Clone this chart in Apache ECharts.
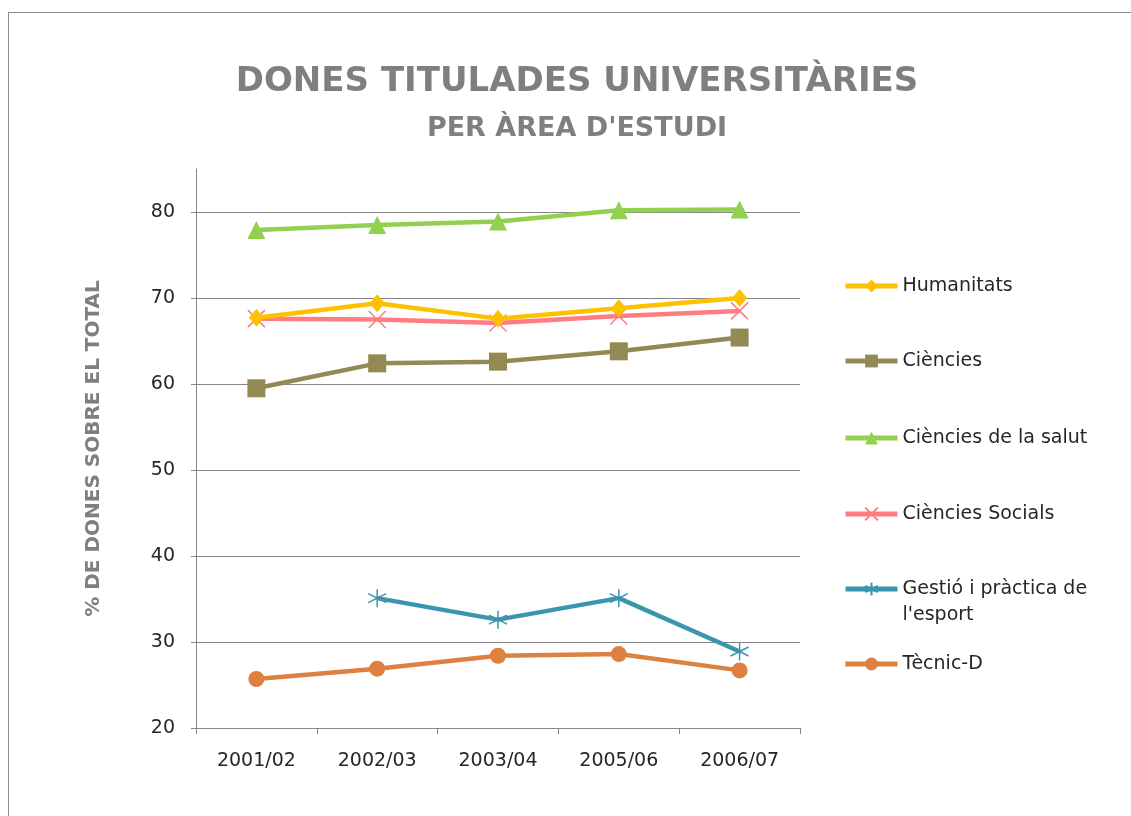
<!DOCTYPE html>
<html>
<head>
<meta charset="utf-8">
<title>Dones titulades universitàries</title>
<script src="https://cdn.jsdelivr.net/npm/echarts@6/dist/echarts.min.js"></script>
<style>
    html, body { margin: 0; padding: 0; background: #fff; overflow: hidden; }
    #frame { position: absolute; left: 8px; top: 12px; width: 1200px; height: 900px; border: 1px solid #8c8c8c; }
    #main { position: absolute; left: 0; top: 0; width: 1131px; height: 816px; }
</style>
</head>
<body>
<div id="frame"></div>
<div id="main"></div>
<script type="text/javascript">
    // dades llegides del gràfic
    var cursos = ['2001/02', '2002/03', '2003/04', '2005/06', '2006/07'];
    var humanitats = [67.7, 69.4, 67.6, 68.8, 70.0];
    var ciencies = [59.5, 62.4, 62.6, 63.8, 65.4];
    var salut = [77.9, 78.5, 78.9, 80.2, 80.3];
    var socials = [67.6, 67.5, 67.1, 67.9, 68.5];
    var esport = [null, 35.1, 32.6, 35.1, 28.9];
    var tecnic = [25.7, 26.9, 28.4, 28.6, 26.7];
    var yTicks = [20, 30, 40, 50, 60, 70, 80];

    var nomsSeries = ['Humanitats', 'Ciències', 'Ciències de la salut', 'Ciències Socials',
        'Gestió i pràctica de l\'esport', 'Tècnic-D'];
    var colors = ['#FFC000', '#938953', '#92D050', '#FF7C80', '#3C95AE', '#DD8040'];

    var FONT = '"DejaVu Sans", sans-serif';
    var symX = 'path://M0,0 L10,10 M10,0 L0,10';
    var symStar = 'path://M5,0 L5,10 M0.7,2.5 L9.3,7.5 M9.3,2.5 L0.7,7.5';

    function serie(i, data, symbol, size, stroke) {
        return {
            name: nomsSeries[i],
            type: 'line',
            data: data,
            symbol: symbol,
            symbolSize: size,
            showAllSymbol: true,
            connectNulls: false,
            lineStyle: { color: colors[i], width: 4.5 },
            itemStyle: stroke
                ? { color: 'rgba(0,0,0,0)', borderColor: colors[i], borderWidth: 1.5 }
                : { color: colors[i], borderWidth: 0 },
            emphasis: { disabled: true },
            z: 10 - i
        };
    }

    // una llegenda per element per posar-los on toca
    var legendTops = [268, 343, 420, 496, 545, 646];
    var legends = nomsSeries.map(function (nom, i) {
        return {
            data: [nom],
            orient: 'vertical',
            left: 838,
            top: legendTops[i],
            itemWidth: 52,
            itemHeight: 16,
            itemGap: 0,
            selectedMode: false,
            lineStyle: { width: 5 },
            formatter: function (n) {
                // línia buida al davant perquè la icona quedi a la primera línia
                return n === nomsSeries[4] ? '\nGestió i pràctica de\nl\'esport' : n;
            },
            textStyle: { fontFamily: FONT, fontSize: 19, color: '#262626', lineHeight: 26 }
        };
    });

    var myChart = echarts.init(document.getElementById('main'));
    myChart.setOption({
        animation: false,
        title: [{
            text: 'DONES TITULADES UNIVERSITÀRIES',
            left: 572,
            top: 60,
            textAlign: 'center',
            textStyle: { fontFamily: FONT, fontSize: 34, fontWeight: 'bold', color: '#7F7F7F' }
        }, {
            text: 'PER ÀREA D\'ESTUDI',
            left: 572,
            top: 110,
            textAlign: 'center',
            textStyle: { fontFamily: FONT, fontSize: 27, fontWeight: 'bold', color: '#7F7F7F' }
        }],
        legend: legends,
        grid: { left: 196, right: 331, top: 169, bottom: 88, containLabel: false },
        xAxis: {
            type: 'category',
            data: cursos,
            boundaryGap: true,
            axisLine: { lineStyle: { color: '#868686', width: 1 } },
            axisTick: { show: true, length: 6, lineStyle: { color: '#868686' } },
            axisLabel: { fontFamily: FONT, fontSize: 19, color: '#262626', margin: 24 }
        },
        yAxis: {
            type: 'value',
            min: yTicks[0],
            max: 85,
            interval: 10,
            name: '% DE DONES SOBRE EL TOTAL',
            nameLocation: 'middle',
            nameGap: 92,
            nameTextStyle: { fontFamily: FONT, fontSize: 20, fontWeight: 'bold', color: '#7F7F7F' },
            axisLine: { show: true, lineStyle: { color: '#868686', width: 1 } },
            axisTick: { show: true, length: 5, lineStyle: { color: '#868686' } },
            axisLabel: { fontFamily: FONT, fontSize: 19, color: '#262626', margin: 21, showMaxLabel: false },
            splitLine: { show: true, showMaxLine: false, showMinLine: false, lineStyle: { color: '#868686', width: 1 } }
        },
        series: [
            serie(0, humanitats, 'diamond', [15, 18], false),
            serie(1, ciencies, 'rect', 18, false),
            serie(2, salut, 'triangle', 18, false),
            serie(3, socials, symX, 17, true),
            serie(4, esport, symStar, 18, true),
            serie(5, tecnic, 'circle', 16, false)
        ]
    });
</script>
</body>
</html>
